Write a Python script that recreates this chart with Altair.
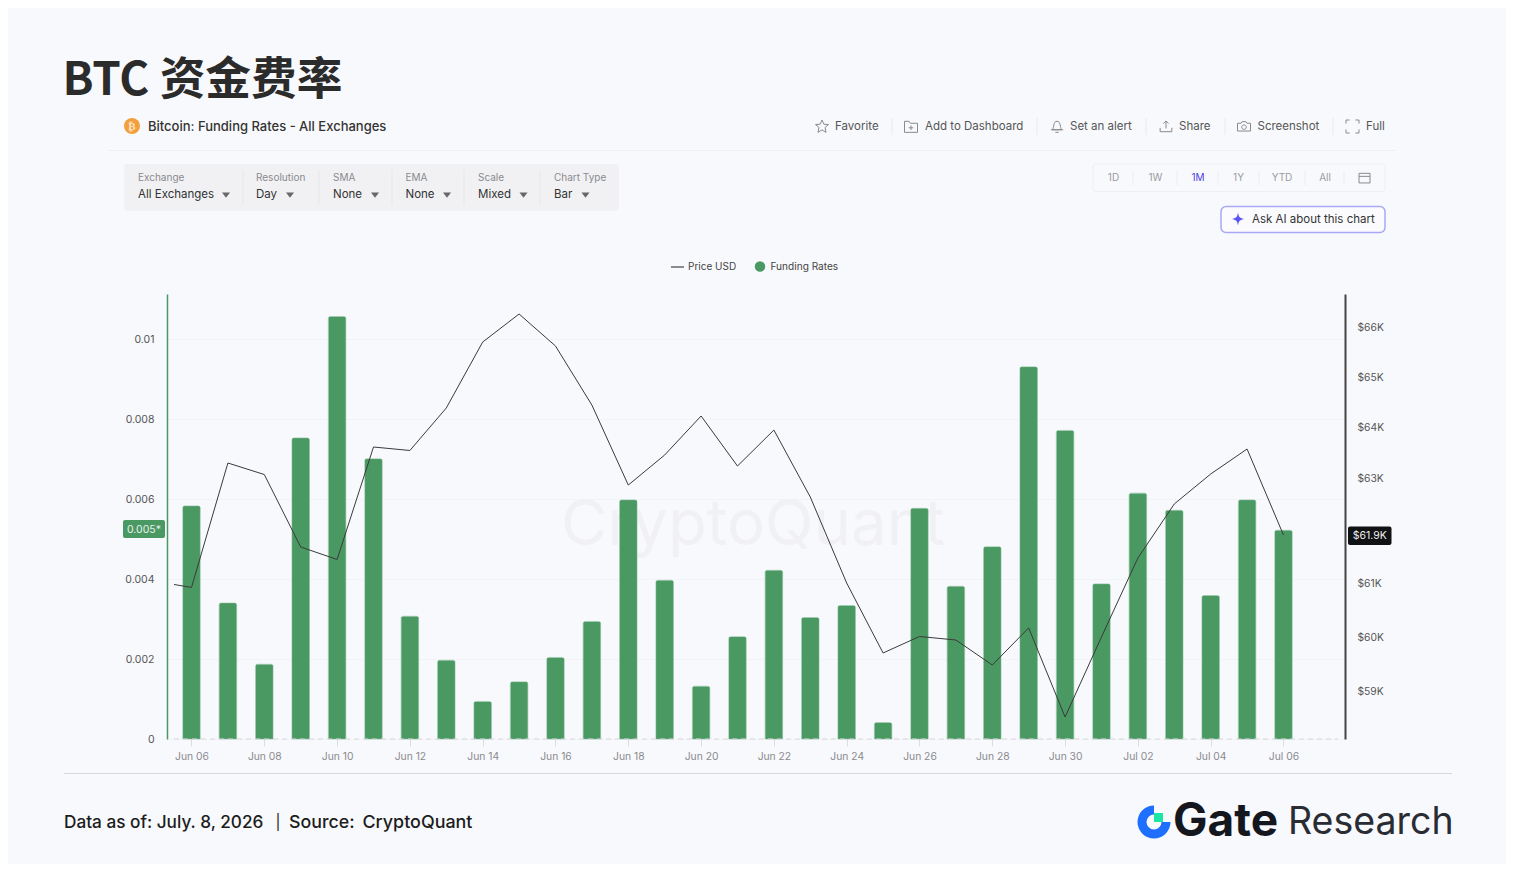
import math
import altair as alt
import pandas as pd

# ---------- data ----------
bar_days = pd.date_range("2026-06-06", "2026-07-06", freq="D").strftime("%Y-%m-%dT00:00:00Z").tolist()
funding_rates = [0.00583, 0.0034, 0.00187, 0.00753, 0.01057, 0.00701, 0.00307, 0.00197, 0.00094, 0.00143,
                 0.00204, 0.00294, 0.00598, 0.00397, 0.00132, 0.00256, 0.00422, 0.00304, 0.00334, 0.00041,
                 0.00577, 0.00382, 0.00481, 0.00931, 0.00772, 0.00388, 0.00615, 0.00572, 0.00359, 0.00598,
                 0.00522]
price_days = ["2026-06-05T12:30:00Z"] + bar_days
price_usd = [60984, 60928, 63306, 63082, 61691, 61455, 63618, 63550, 64386, 65706, 66275, 65626, 64445,
             62878, 63462, 64228, 63247, 63951, 62647, 61011, 59712, 60016, 59951, 59492, 60174, 58548,
             60007, 61482, 62513, 63092, 63579, 61919]
left_ticks = [0, 0.002, 0.004, 0.006, 0.008, 0.01]
right_ticks = [59000, 60000, 61000, 63000, 64000, 65000, 66000]
x_tick_days = bar_days[::2]

control_names = ["Exchange", "Resolution", "SMA", "EMA", "Scale", "Chart Type"]
control_values = ["All Exchanges", "Day", "None", "None", "Mixed", "Bar"]
action_names = ["Favorite", "Add to Dashboard", "Set an alert", "Share", "Screenshot", "Full"]
range_names = ["1D", "1W", "1M", "1Y", "YTD", "All"]

# ---------- geometry of the page (image pixels) ----------
LEFT, TOP, RIGHT, BOTTOM = 167, 294, 1345, 739
W, H = RIGHT - LEFT, BOTTOM - TOP
BG = "#f8f9fc"
GREEN = "#4a9963"
FONT = "Inter"
one = pd.DataFrame({"a": [0]})


def px(v):
    return alt.value(v - LEFT)


def py(v):
    return alt.value(v - TOP)


def text(s, x, y, size=12, color="#333333", align="left", weight=400, font=FONT):
    return alt.Chart(one).mark_text(text=s, fontSize=size, color=color, align=align, baseline="middle",
                                    fontWeight=weight, font=font).encode(x=px(x), y=py(y))


def box(x0, x1, y0, y1, fill=None, stroke=None, sw=1.0, radius=0):
    kw = {"cornerRadius": radius, "strokeWidth": sw}
    kw["fill"] = fill if fill else "transparent"
    if stroke:
        kw["stroke"] = stroke
    return alt.Chart(one).mark_rect(**kw).encode(x=px(x0), x2=px(x1), y=py(y0), y2=py(y1))


def hline(x0, x1, y, color, sw=1.0, dash=None):
    kw = {"color": color, "strokeWidth": sw}
    if dash:
        kw["strokeDash"] = dash
    return alt.Chart(one).mark_rule(**kw).encode(x=px(x0), x2=px(x1), y=py(y))


def vline(x, y0, y1, color, sw=1.0):
    return alt.Chart(one).mark_rule(color=color, strokeWidth=sw).encode(x=px(x), y=py(y0), y2=py(y1))


def icon(path, x, y, px_size, stroke="#8a8a8a", fill=None, sw=1.0):
    kw = {"shape": path, "size": px_size * px_size, "strokeWidth": sw, "opacity": 1}
    kw["stroke"] = stroke if stroke else "transparent"
    kw["fill"] = fill if fill else "transparent"
    kw["filled"] = True
    return alt.Chart(one).mark_point(**kw).encode(x=px(x), y=py(y))


STAR = "M0,-1L0.29,-0.35L1,-0.3L0.47,0.15L0.62,0.9L0,0.52L-0.62,0.9L-0.47,0.15L-1,-0.3L-0.29,-0.35Z"
FOLDER = "M-1,-0.8L-0.3,-0.8L-0.1,-0.5L1,-0.5L1,0.9L-1,0.9Z M-0.35,0.2L0.35,0.2 M0,-0.15L0,0.55"
BELL = "M-0.7,0.5C-0.45,0.2 -0.6,-0.8 0,-0.8C0.6,-0.8 0.45,0.2 0.7,0.5Z M-0.95,0.5L0.95,0.5 M-0.25,0.9L0.25,0.9"
SHARE = "M0,0.3L0,-0.85 M-0.4,-0.45L0,-0.85L0.4,-0.45 M-0.9,0.2L-0.9,0.8L0.9,0.8L0.9,0.2"
CAMERA = "M-1,-0.5L-0.45,-0.5L-0.3,-0.75L0.3,-0.75L0.45,-0.5L1,-0.5L1,0.7L-1,0.7Z M0.35,0.1A0.35,0.35 0 1 1 -0.35,0.1A0.35,0.35 0 1 1 0.35,0.1"
FULL = "M-1,-0.45L-1,-1L-0.45,-1 M0.45,-1L1,-1L1,-0.45 M1,0.45L1,1L0.45,1 M-0.45,1L-1,1L-1,0.45"
CAL = "M-1,-0.85L1,-0.85L1,0.9L-1,0.9Z M-1,-0.3L1,-0.3"
SPARK = "M0,-1C0.1,-0.3 0.3,-0.1 1,0C0.3,0.1 0.1,0.3 0,1C-0.1,0.3 -0.3,0.1 -1,0C-0.3,-0.1 -0.1,-0.3 0,-1Z"
CARET = "M-1,-0.6L1,-0.6L0,0.7Z"

layers = []

# --- page furniture behind the chart
layers.append(text("BTC 资金费率", 62.5, 81, size=45.7, color="#2b2b2b", weight=700, font="Noto Sans CJK SC"))
layers.append(alt.Chart(one).mark_point(shape="circle", size=256, filled=True, color="#f2a03d", opacity=1)
              .encode(x=px(132), y=py(126)))
layers.append(text("₿", 132, 126.5, size=11, color="#fbe3c4", align="center", weight=700, font="DejaVu Sans"))
layers.append(text("Bitcoin: Funding Rates - All Exchanges", 148, 126.5, size=13, color="#333333", weight=500))

action_x = [835, 925, 1070, 1179, 1257.5, 1366]
action_icon = [STAR, FOLDER, BELL, SHARE, CAMERA, FULL]
action_icon_x = [822, 911, 1057, 1166, 1244, 1352.5]
for name, x, path, ix in zip(action_names, action_x, action_icon, action_icon_x):
    layers.append(text(name, x, 126.5, size=11.5, color="#555555"))
    layers.append(icon(path, ix, 126.5, 13))
for x in [892, 1037, 1146, 1225, 1333]:
    layers.append(vline(x, 118, 135, "#e9eaee"))
layers.append(hline(108, 1396, 150.5, "#eeeff2"))

layers.append(box(124, 619, 164, 210.5, fill="#f1f1f3", radius=3))
ctrl_x = [138, 256, 333, 405.5, 478, 554]
caret_x = [226, 290, 375, 447, 523.5, 585.5]
for name, val, x, cx in zip(control_names, control_values, ctrl_x, caret_x):
    layers.append(text(name, x, 177.5, size=10, color="#8a8a90"))
    layers.append(text(val, x, 194.5, size=11.5, color="#333333"))
    layers.append(icon(CARET, cx, 195, 8, stroke=None, fill="#66666c"))
for x in [243, 319, 392, 464, 540]:
    layers.append(vline(x, 170, 205, "#e7e7ea"))

layers.append(box(1093, 1385, 164, 191.5, stroke="#eeeff2", radius=3))
range_x = [1113.5, 1155.5, 1198, 1238.5, 1282, 1325]
for name, x in zip(range_names, range_x):
    c = "#4b3fe0" if name == "1M" else "#9a9aa0"
    layers.append(text(name, x, 178, size=10, color=c, align="center"))
for x in [1133, 1177, 1218, 1259, 1305, 1344]:
    layers.append(vline(x, 171, 185, "#ecedf0"))
layers.append(icon(CAL, 1364.5, 178, 11))

layers.append(box(1221, 1385, 206.5, 232.5, fill="#fbfbfe", stroke="#a7a9f6", sw=1.5, radius=5))
layers.append(icon(SPARK, 1238, 219, 13, stroke=None, fill="#5a55f0"))
layers.append(text("Ask AI about this chart", 1252, 219.5, size=11.5, color="#333333"))

# legend
layers.append(hline(671, 684, 267, "#666666", sw=1.5))
layers.append(text("Price USD", 688, 267, size=10, color="#444444"))
layers.append(alt.Chart(one).mark_point(shape="circle", size=110, filled=True, color=GREEN, opacity=1)
              .encode(x=px(760), y=py(266.5)))
layers.append(text("Funding Rates", 770.5, 267, size=10.1, color="#444444"))

# watermark
layers.append(text("CryptoQuant", 753, 526, size=63.5, color="#f1f1f5", align="center", weight=400))

# --- the chart proper
ms = lambda s: int(pd.Timestamp(s).timestamp() * 1000)
x_domain = [ms("2026-06-05T07:51:00Z"), ms("2026-07-07T16:34:00Z")]
x_scale = alt.Scale(type="utc", domain=x_domain, padding=0)
x_axis = alt.Axis(
    values=[ms(d) for d in x_tick_days], format="%b %d", title=None, grid=False, domain=False,
    tickColor="#dcdde1", tickSize=7, labelColor="#8a8a90", labelFontSize=10.3, labelFont=FONT,
    labelPadding=5, labelOverlap=False, labelFlush=False)

bars_df = pd.DataFrame({"day": bar_days, "rate": funding_rates})
bars = alt.Chart(bars_df).mark_bar(size=17.5, color=GREEN, cornerRadiusTopLeft=2, cornerRadiusTopRight=2,
                                   stroke="#6fae84", strokeWidth=0.5).encode(
    x=alt.X("day:T", scale=x_scale, axis=x_axis),
    y=alt.Y("rate:Q", scale=alt.Scale(domain=[0, 445 / 39975], nice=False, zero=True), axis=alt.Axis(
        values=left_ticks, labelExpr="'' + datum.value", title=None, orient="left", grid=True,
        gridColor="#f2f3f6", gridWidth=1, domainColor=GREEN, domainWidth=1.5, ticks=False,
        labelColor="#555555", labelFontSize=10.5, labelFont=FONT, labelPadding=13)),
)

price_df = pd.DataFrame({"day": price_days, "price": price_usd})
line = alt.Chart(price_df).mark_line(color="#3a3a3a", strokeWidth=1).encode(
    x=alt.X("day:T", scale=x_scale, axis=x_axis),
    y=alt.Y("price:Q", scale=alt.Scale(type="log", domain=[58153, 66684], nice=False), axis=alt.Axis(
        values=right_ticks, labelExpr="'$' + datum.value / 1000 + 'K'", title=None, orient="right", grid=False,
        domainColor="#444444", domainWidth=2, ticks=False, labelColor="#555555", labelFontSize=10.3,
        labelFont=FONT, labelPadding=12)),
)

layers.append(bars)
layers.append(hline(174, 1338, 739, "#d5d6dc", dash=[5, 4]))
layers.append(line)

# tags on the axes
layers.append(box(123, 165, 520, 538, fill=GREEN, radius=2))
layers.append(text("0.005*", 144, 529.5, size=10.5, color="#e6f1e9", align="center"))
layers.append(box(1348, 1391.5, 526.5, 545, fill="#111214", radius=2))
layers.append(text("$61.9K", 1369.7, 536, size=10.5, color="#eeeeee", align="center"))

# --- footer
layers.append(hline(64, 1452, 773.5, "#d6d8dc"))
layers.append(text("Data as of: July. 8, 2026", 64, 822.5, size=17.2, color="#1c1c1c", weight=500))
layers.append(text("|", 275.5, 822, size=15, color="#1c1c1c"))
layers.append(text("Source:", 289, 822.5, size=17.8, color="#1c1c1c", weight=500))
layers.append(text("CryptoQuant", 362.5, 822.5, size=17.9, color="#1c1c1c", weight=500))
layers.append(alt.Chart(one).mark_arc(innerRadius=7.5, outerRadius=16.5, theta=math.pi / 2, theta2=2 * math.pi,
                                      color="#1f6fff").encode(x=px(1154), y=py(822)))
layers.append(box(1154, 1163, 813, 822, fill="#1de5a5"))
layers.append(text("Gate", 1173, 822, size=46, color="#15171f", weight=700))
layers.append(text("Research", 1288, 823, size=37.5, color="#2a2c34", weight=400))

chart = alt.layer(*layers).resolve_scale(y="independent").properties(
    width=W, height=H,
    padding={"left": LEFT - 8, "top": TOP - 8, "right": 1506 - RIGHT, "bottom": 864 - BOTTOM},
    autosize=alt.AutoSizeParams(type="none"),
    background=BG,
).configure_view(stroke=None)

chart.save("out.html", embed_options={"renderer": "svg", "actions": False})
